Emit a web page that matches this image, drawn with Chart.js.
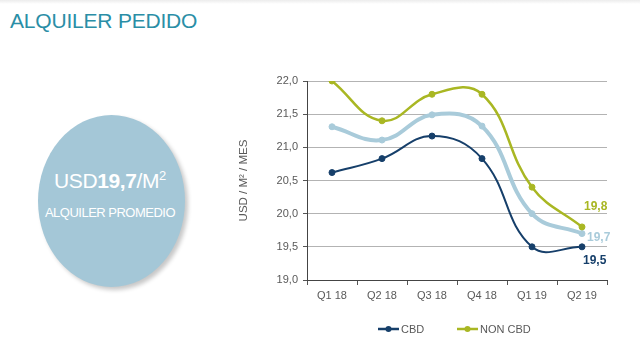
<!DOCTYPE html>
<html>
<head>
<meta charset="utf-8">
<script src="https://cdn.jsdelivr.net/npm/chart.js@4"></script>
<style>
  body { margin: 0; width: 640px; height: 338px; background: #fff; position: relative; overflow: hidden; font-family: "Liberation Sans", Arial, sans-serif; }
  #topband { position: absolute; left: 0; top: 0; width: 640px; height: 4px; background: linear-gradient(#ececec, #fff); }
  #title { position: absolute; left: 10px; top: 9px; font-size: 21px; color: #2a8ea6; letter-spacing: -0.2px; }
  #bubble { position: absolute; left: 38px; top: 115px; width: 147px; height: 172px; border-radius: 50%; background: #a4c7d7; box-shadow: 3px 3px 4px rgba(0,0,0,0.22); }
  #big { position: absolute; left: 0; width: 220px; top: 168px; text-align: center; color: #fff; font-size: 21px; letter-spacing: -0.4px; }
  #big sup { font-size: 13px; vertical-align: 8px; }
  #small { position: absolute; left: 0; width: 220px; top: 205px; text-align: center; color: #fff; font-size: 13px; letter-spacing: -0.5px; }
  #wrap { position: absolute; left: 230px; top: 50px; width: 410px; height: 288px; }
</style>
</head>
<body>
<div id="topband"></div>
<div id="title">ALQUILER PEDIDO</div>
<div id="bubble"></div>
<div id="big">USD<b>19,7</b>/M<sup>2</sup></div>
<div id="small">ALQUILER PROMEDIO</div>
<div id="wrap"><canvas id="myChart"></canvas></div>
<script>
// quarters
let quarters = ["Q1 18", "Q2 18", "Q3 18", "Q4 18", "Q1 19", "Q2 19"];
let cbd = [20.62, 20.83, 21.17, 20.83, 19.5, 19.5];
let nonCbd = [22.0, 21.4, 21.8, 21.8, 20.4, 19.8];
let promedio = [21.31, 21.11, 21.49, 21.32, 20.0, 19.7];
let yTicks = [19.0, 19.5, 20.0, 20.5, 21.0, 21.5, 22.0];

let navy = '#163f6a';
let olive = '#a9b723';
let light = '#a9cbda';

// last value labels + legend at the bottom
const extras = {
  id: 'extras',
  afterDatasetsDraw(chart) {
    let ctx = chart.ctx;
    let x = chart.scales.x, y = chart.scales.y;
    let last = quarters.length - 1;
    let px = x.getPixelForValue(last);
    ctx.save();
    ctx.font = 'bold 12px "Liberation Sans", Arial';
    ctx.textAlign = 'left';
    ctx.textBaseline = 'middle';
    ctx.fillStyle = olive;
    ctx.fillText(nonCbd[last].toFixed(1).replace('.', ','), px + 2, y.getPixelForValue(nonCbd[last]) - 20);
    ctx.fillStyle = light;
    ctx.fillText(promedio[last].toFixed(1).replace('.', ','), px + 5, y.getPixelForValue(promedio[last]) + 4);
    ctx.fillStyle = navy;
    ctx.fillText(cbd[last].toFixed(1).replace('.', ','), px + 1, y.getPixelForValue(cbd[last]) + 14);

    // legend
    let items = [[cbd, navy, 'CBD', 148], [nonCbd, olive, 'NON CBD', 227]];
    ctx.font = '11px "Liberation Sans", Arial';
    items.forEach(it => {
      let lx = it[3], ly = 279;
      ctx.strokeStyle = it[1];
      ctx.lineWidth = 2.5;
      ctx.beginPath();
      ctx.moveTo(lx, ly);
      ctx.lineTo(lx + 21, ly);
      ctx.stroke();
      ctx.fillStyle = it[1];
      ctx.beginPath();
      ctx.arc(lx + 10.5, ly, 3, 0, Math.PI * 2);
      ctx.fill();
      ctx.fillStyle = '#595959';
      ctx.fillText(it[2], lx + 23, ly + 1);
    });
    ctx.restore();
  }
};

function generateGraph() {
  var ctx = document.getElementById('myChart').getContext('2d');
  var myChart = new Chart(ctx, {
    type: 'line',
    data: {
      labels: quarters,
      datasets: [
        {
          label: 'PROMEDIO',
          data: promedio,
          borderColor: light,
          backgroundColor: light,
          borderWidth: 4,
          pointRadius: 3,
          pointBorderWidth: 1,
          tension: 0.42,
          order: 3
        },
        {
          label: 'NON CBD',
          data: nonCbd,
          borderColor: olive,
          backgroundColor: olive,
          borderWidth: 2.5,
          pointRadius: 3,
          pointBorderWidth: 1,
          tension: 0.42,
          order: 2
        },
        {
          label: 'CBD',
          data: cbd,
          borderColor: navy,
          backgroundColor: navy,
          borderWidth: 2,
          pointRadius: 3,
          pointBorderWidth: 1,
          tension: 0.42,
          order: 1
        }
      ]
    },
    options: {
      responsive: true,
      maintainAspectRatio: false,
      animation: false,
      layout: { padding: { left: 7, right: 33, top: 31, bottom: 0 } },
      plugins: {
        legend: { display: false },
        tooltip: { enabled: false }
      },
      scales: {
        x: {
          offset: true,
          afterFit: s => { s.height = 58; },
          grid: { offset: true, drawOnChartArea: false, tickLength: 5, color: '#555', tickColor: '#555' },
          border: { color: '#444', width: 1 },
          ticks: { color: '#595959', font: { size: 11, family: '"Liberation Sans", Arial' }, padding: 4, maxRotation: 0 }
        },
        y: {
          min: 19, max: 22,
          afterFit: s => { s.width = 70; },
          afterBuildTicks: s => { s.ticks = yTicks.map(v => ({ value: v })); },
          grid: { color: '#b3b3b3', tickLength: 4, tickColor: '#555' },
          border: { color: '#444', width: 1 },
          title: { display: true, text: 'USD / M² / MES', color: '#595959', font: { size: 11.5, family: '"Liberation Sans", Arial' }, padding: 0 },
          ticks: {
            color: '#595959',
            font: { size: 11, family: '"Liberation Sans", Arial' },
            padding: 5,
            callback: v => v.toFixed(1).replace('.', ',')
          }
        }
      }
    },
    plugins: [extras]
  });
}

generateGraph();
</script>
</body>
</html>
